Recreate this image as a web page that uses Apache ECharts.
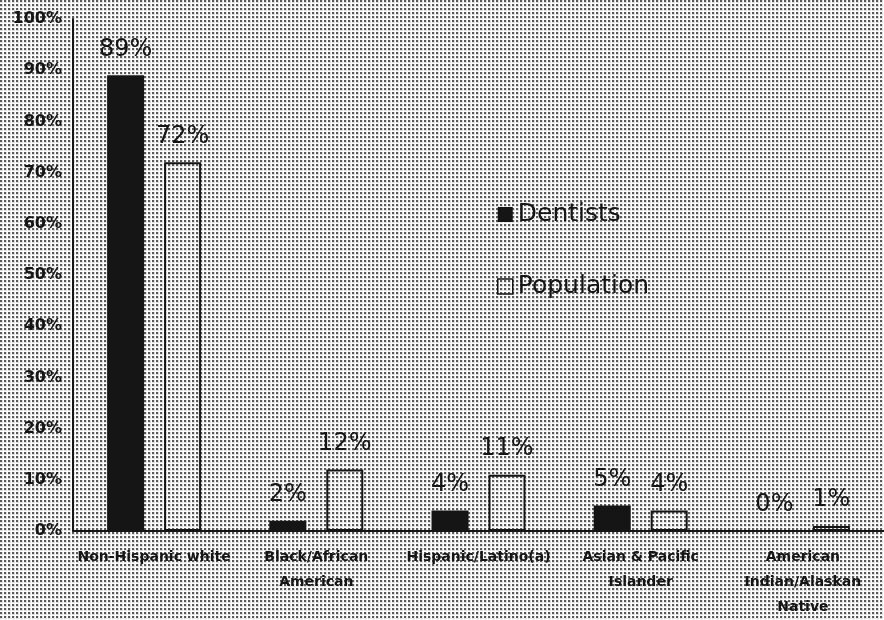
<!DOCTYPE html>
<html>
<head>
<meta charset="utf-8">
<script src="https://cdn.jsdelivr.net/npm/echarts@6/dist/echarts.min.js"></script>
<style>
  html, body { margin: 0; padding: 0; background: #fff; }
  #chart { width: 884px; height: 620px; }
</style>
</head>
<body>
<div id="chart"></div>
<script>
// Share of dentists vs. share of the general population, by race/ethnicity (%)
const categories = [
  'Non-Hispanic white',
  'Black/African\nAmerican',
  'Hispanic/Latino(a)',
  'Asian & Pacific\nIslander',
  'American\nIndian/Alaskan\nNative'
];
const dentists = [89, 2, 4, 5, 0];
const population = [72, 12, 11, 4, 1];
const yTickMin = 0;
const yTickMax = 100;
const yTickStep = 10;

// Halftone dot screen used as the page background
function dotPattern() {
  const c = document.createElement('canvas');
  c.width = 4; c.height = 4;
  const g = c.getContext('2d');
  g.fillStyle = '#ffffff';
  g.fillRect(0, 0, 4, 4);
  g.fillStyle = '#e0e0e0';
  g.fillRect(0, 0, 3, 3);
  g.fillStyle = '#5a5a5a';
  g.fillRect(0, 0, 2, 2);
  return c;
}

const ink = '#151515';
const font = 'DejaVu Sans';

const chart = echarts.init(document.getElementById('chart'), null, { renderer: 'canvas' });
chart.setOption({
  backgroundColor: { image: dotPattern(), repeat: 'repeat' },
  animation: false,
  grid: { left: 73, top: 19, width: 815, height: 512, containLabel: false },
  legend: {
    orient: 'vertical',
    left: 492,
    top: 196,
    itemWidth: 15,
    itemHeight: 15,
    itemGap: 45,
    textStyle: { fontFamily: font, fontSize: 25, color: ink, lineHeight: 27 },
    data: [
      { name: 'Dentists', icon: 'rect', itemStyle: { color: ink, borderWidth: 0 } },
      { name: 'Population', icon: 'rect', itemStyle: { color: 'rgba(255,255,255,0)', borderColor: ink, borderWidth: 1.5 } }
    ]
  },
  xAxis: {
    type: 'category',
    data: categories,
    axisLine: { show: true, lineStyle: { color: ink, width: 2 } },
    axisTick: { show: false },
    axisLabel: {
      interval: 0,
      margin: 14,
      fontFamily: font,
      fontSize: 14,
      fontWeight: 'bold',
      color: ink,
      lineHeight: 25
    }
  },
  yAxis: {
    type: 'value',
    min: yTickMin,
    max: yTickMax,
    interval: yTickStep,
    axisLine: { show: true, lineStyle: { color: ink, width: 2 } },
    axisTick: { show: false },
    splitLine: { show: false },
    axisLabel: {
      margin: 11,
      fontFamily: font,
      fontSize: 16,
      fontWeight: 'bold',
      color: ink,
      formatter: '{value}%'
    }
  },
  series: [
    {
      name: 'Dentists',
      type: 'bar',
      data: dentists,
      barWidth: 37,
      barGap: '54%',
      itemStyle: { color: ink },
      label: {
        show: true,
        position: 'top',
        distance: 14,
        formatter: '{c}%',
        fontFamily: font,
        fontSize: 24,
        color: ink
      }
    },
    {
      name: 'Population',
      type: 'bar',
      data: population,
      barWidth: 37,
      itemStyle: { color: 'rgba(255,255,255,0)', borderColor: ink, borderWidth: 2 },
      label: {
        show: true,
        position: 'top',
        distance: 14,
        formatter: '{c}%',
        fontFamily: font,
        fontSize: 24,
        color: ink
      }
    }
  ]
});
</script>
</body>
</html>
